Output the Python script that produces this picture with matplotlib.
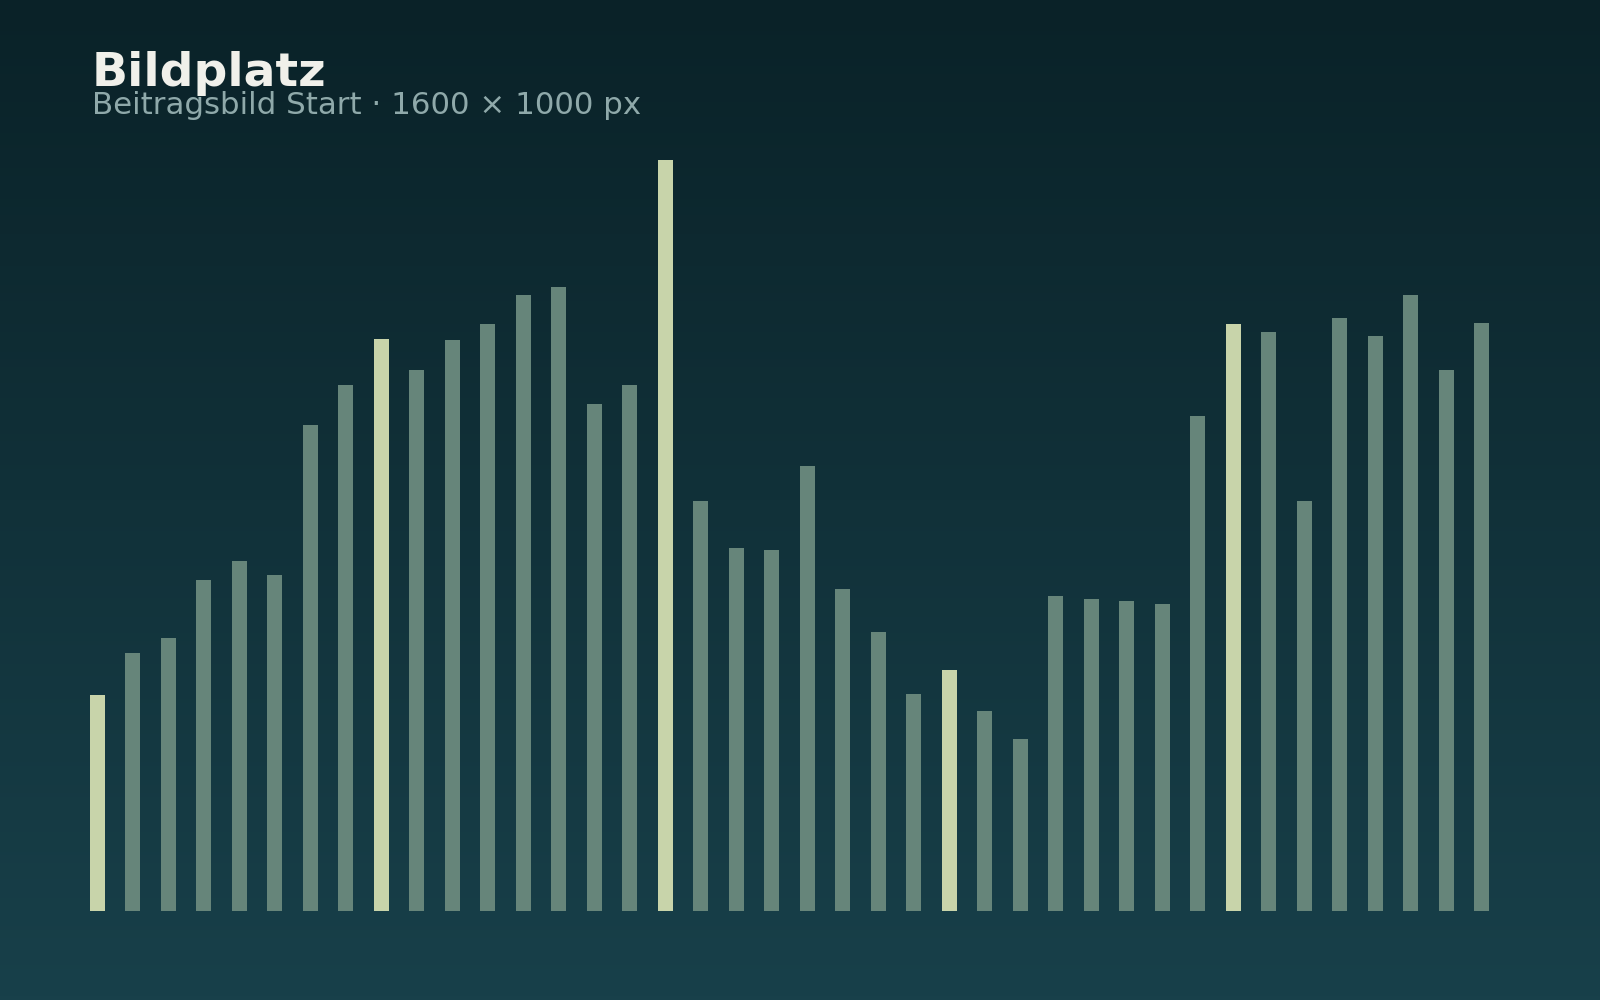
import numpy as np
import matplotlib
matplotlib.use("Agg")
import matplotlib.pyplot as plt
from matplotlib.colors import LinearSegmentedColormap

# ---- data ----
values = [28.8, 34.3, 36.3, 44.0, 46.6, 44.7, 64.7, 70.1, 76.2, 72.0,
          76.0, 78.2, 82.0, 83.1, 67.5, 70.0, 100.0, 54.6, 48.3, 48.1,
          59.3, 42.8, 37.1, 28.9, 32.1, 26.6, 22.9, 41.9, 41.5, 41.3,
          40.9, 65.9, 78.2, 77.1, 54.6, 79.0, 76.6, 82.0, 72.0, 78.3]
highlight_every = 8
title = "Bildplatz"
subtitle = "Beitragsbild Start \u00b7 1600 \u00d7 1000 px"

# ---- style ----
bg_top = "#0a2228"
bg_bottom = "#18404a"
bar_color = "#66857a"
hi_color = "#c8d4aa"

fig = plt.figure(figsize=(16, 10), dpi=100)

# background gradient
bg = fig.add_axes([0, 0, 1, 1], zorder=0)
cmap = LinearSegmentedColormap.from_list("bg", [bg_bottom, bg_top])
grad = np.linspace(0, 1, 256).reshape(-1, 1)
bg.imshow(grad, aspect="auto", cmap=cmap, origin="lower", extent=[0, 1, 0, 1])
bg.set_axis_off()

n = len(values)
x = np.arange(n)
colors = [hi_color if i % highlight_every == 0 else bar_color for i in range(n)]

ax = fig.add_axes([0.04984, 0.0893, 0.8872, 0.7505], zorder=1)
ax.patch.set_alpha(0)
ax.bar(x, values, width=0.4227, color=colors, linewidth=0)
ax.set_xlim(-0.5, n - 0.5)
ax.set_ylim(0, 100)
ax.set_axis_off()

fig.text(0.0575, 0.914, title, fontsize=34, fontweight="bold",
         color="#f0f0ea", family="DejaVu Sans", va="baseline", ha="left")
fig.text(0.0575, 0.886, subtitle, fontsize=22.2,
         color="#8fa9aa", family="DejaVu Sans", va="baseline", ha="left")

fig.savefig("out.png", dpi=100)
